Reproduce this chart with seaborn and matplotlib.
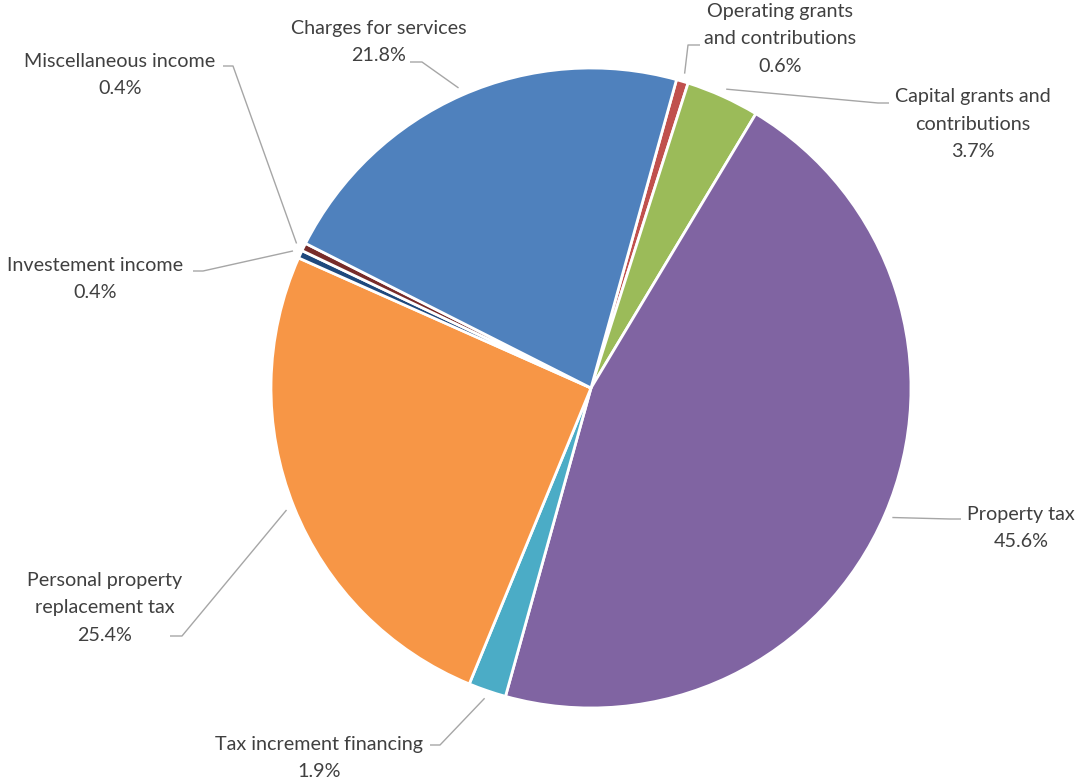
import numpy as np
import matplotlib
matplotlib.use("Agg")
import matplotlib.pyplot as plt
import seaborn as sns

# Revenue sources (share of total, %)
categories = [
    "Operating grants\nand contributions",
    "Capital grants and\ncontributions",
    "Property tax",
    "Tax increment financing",
    "Personal property\nreplacement tax",
    "Investement income",
    "Miscellaneous income",
    "Charges for services",
]
shares = [0.6, 3.7, 45.6, 1.9, 25.4, 0.4, 0.4, 21.8]
colors = ["#C0504D", "#9BBB59", "#8064A2", "#4BACC6",
          "#F79646", "#1F497D", "#772C2A", "#4F81BD"]

# Label placement in pixel space (y measured from top):
# label centre, leader start next to the text, and elbow point
label_xy = [(780, 39), (973, 124), (1021, 528), (319, 758),
            (105, 608), (95, 279), (120, 75), (379, 42)]
leader_start = [(700, 45), (889, 103), (961, 519), (430, 745),
                (170, 636), (193, 271), (223, 66), (410, 62)]
leader_elbow = [(688, 45), (878, 103), (950, 519), (440, 745),
                (182, 636), (203, 271), (233, 66), (422, 62)]

W, H = 1078, 782
sns.set_theme(style="white")
plt.rcParams["font.family"] = ["Lato", "DejaVu Sans"]

fig = plt.figure(figsize=(W / 100, H / 100), dpi=100)
ax = fig.add_axes([0, 0, 1, 1])


def fy(y):
    return H - y


cx, cy, R = 591, fy(388), 320
wedges, _ = ax.pie(
    shares, colors=colors, startangle=74.5, counterclock=False,
    center=(cx, cy), radius=R,
    wedgeprops=dict(edgecolor="white", linewidth=2.0),
)
ax.set_xlim(0, W)
ax.set_ylim(0, H)
ax.set_aspect("equal")
ax.axis("off")

line_color = "#A6A6A6"
text_color = "#404040"
for w, cat, val, lxy, ls, le in zip(wedges, categories, shares,
                                    label_xy, leader_start, leader_elbow):
    mid = np.deg2rad((w.theta1 + w.theta2) / 2)
    ax_pt = (cx + 1.025 * R * np.cos(mid), cy + 1.025 * R * np.sin(mid))
    ax.plot([ls[0], le[0], ax_pt[0]], [fy(ls[1]), fy(le[1]), ax_pt[1]],
            color=line_color, lw=1.0, solid_capstyle="butt", zorder=1)
    ax.text(lxy[0], fy(lxy[1]), f"{cat}\n{val:.1f}%", ha="center",
            va="center", ma="center", fontsize=14.2, color=text_color,
            linespacing=1.75)

fig.savefig("out.png", dpi=100, facecolor="white")
